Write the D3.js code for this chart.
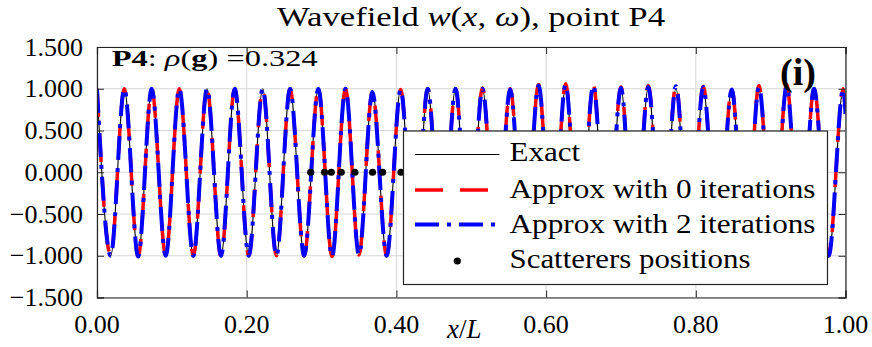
<!DOCTYPE html>
<html><head><meta charset="utf-8">
<script src="https://cdn.jsdelivr.net/npm/d3@7"></script>
<style>
body{margin:0;background:#fff}
svg{display:block}
text{font-family:"Liberation Serif","Times New Roman",serif;fill:#000}
</style>
</head><body>
<svg id="c" width="872" height="347"></svg>
<script>
// ---------- data ----------
const xTickValues = [0, 0.2, 0.4, 0.6, 0.8, 1.0];
const xTickLabels = ["0.00", "0.20", "0.40", "0.60", "0.80", "1.00"];
const yTickValues = [-1.5, -1, -0.5, 0, 0.5, 1, 1.5];
const yTickLabels = ["\u22121.500", "\u22121.000", "\u22120.500", "0.000", "0.500", "1.000", "1.500"];

// positions of the wave crests and troughs (x/L)
const peakX = [0.0000, 0.0365, 0.0731, 0.1100, 0.1470, 0.1840, 0.2214, 0.2580, 0.2957, 0.3320,
               0.3680, 0.4057, 0.4418, 0.4790, 0.5150, 0.5520, 0.5900, 0.6260, 0.6630, 0.7000,
               0.7365, 0.7735, 0.8100, 0.8480, 0.8844, 0.9214, 0.9580, 0.9970];
const troughX = [0.0183, 0.0550, 0.0918, 0.1287, 0.1657, 0.2027, 0.2397, 0.2768, 0.3140, 0.3500,
                 0.3870, 0.4240, 0.4605, 0.4970, 0.5335, 0.5710, 0.6080, 0.6445, 0.6815, 0.7180,
                 0.7550, 0.7918, 0.8290, 0.8662, 0.9030, 0.9397, 0.9775];
const endX = 1.0;

// exact solution
const exactPeak = [1.00, 1.00, 1.00, 1.00, 1.00, 1.00, 1.00, 1.00, 1.00, 1.00,
                   0.98, 1.00, 0.99, 1.00, 1.00, 1.01, 1.00, 1.02, 1.00, 1.00,
                   1.01, 1.00, 0.99, 1.00, 0.99, 1.01, 1.00, 1.00];
const exactTrough = [-1.00, -1.00, -1.00, -1.00, -1.00, -1.00, -1.00, -1.00, -1.00, -1.00,
                     -1.00, -1.00, -1.00, -1.00, -1.00, -1.00, -1.00, -1.00, -1.00, -1.00,
                     -1.00, -1.00, -1.00, -1.00, -1.00, -1.00, -1.00];
const exactEnd = 0.70;

// approximation with 0 iterations
const approx0Peak = [1.00, 1.00, 1.00, 1.00, 1.00, 1.00, 1.00, 1.00, 1.00, 1.00,
                     0.97, 0.99, 1.00, 1.00, 1.01, 1.00, 1.05, 1.06, 1.05, 1.02,
                     1.04, 1.05, 1.03, 1.00, 1.04, 1.05, 1.01, 1.00];
const approx0Trough = [-1.00, -1.01, -1.00, -1.00, -1.01, -1.00, -1.00, -1.00, -1.01, -0.99,
                       -1.00, -1.01, -1.00, -1.00, -1.01, -1.00, -1.00, -1.01, -1.00, -1.00,
                       -1.01, -1.00, -1.00, -1.00, -1.01, -1.00, -1.00];
const approx0End = 0.68;

// approximation with 2 iterations
const approx2Peak = [1.00, 1.00, 1.00, 1.00, 1.00, 1.00, 1.00, 1.00, 1.00, 1.00,
                     0.96, 0.99, 1.00, 1.00, 1.00, 0.99, 1.04, 1.05, 1.04, 1.01,
                     1.02, 1.03, 1.02, 0.99, 1.02, 1.03, 1.00, 1.00];
const approx2Trough = [-1.00, -1.01, -1.00, -1.00, -1.00, -1.00, -1.00, -1.00, -1.01, -0.99,
                       -1.00, -1.00, -1.00, -1.00, -1.00, -1.00, -1.00, -1.00, -1.00, -1.00,
                       -1.00, -1.00, -1.00, -1.00, -1.00, -1.00, -1.00];
const approx2End = 0.70;

// scatterers positions
const scattererX = [0.2855, 0.3040, 0.3130, 0.3263, 0.3446, 0.3681, 0.3815, 0.4061];
const scattererY = [0, 0, 0, 0, 0, 0, 0, 0];

const legendLabels = ["Exact", "Approx with 0 iterations", "Approx with 2 iterations", "Scatterers positions"];

// ---------- drawing ----------
const svg = d3.select("#c");
const M = {l: 97, r: 845.5, t: 47, b: 297.5};
const x = d3.scaleLinear().domain([0, 1]).range([M.l, M.r]);
const y = d3.scaleLinear().domain([-1.5, 1.5]).range([M.b, M.t]);
const axisColor = "#262626";

svg.append("rect").attr("width", 872).attr("height", 347).attr("fill", "#fff");

// clip
svg.append("clipPath").attr("id", "plotclip").append("rect")
  .attr("x", M.l).attr("y", M.t).attr("width", M.r - M.l).attr("height", M.b - M.t);

// grid
const grid = svg.append("g").attr("stroke", "#d6d6d6").attr("stroke-width", 1);
xTickValues.forEach(v => grid.append("line").attr("x1", x(v)).attr("x2", x(v)).attr("y1", M.t).attr("y2", M.b));
yTickValues.forEach(v => grid.append("line").attr("y1", y(v)).attr("y2", y(v)).attr("x1", M.l).attr("x2", M.r));

function build(pk, tr, endV) {
  const pts = [];
  peakX.forEach((px, i) => pts.push([px, pk[i]]));
  troughX.forEach((tx, i) => pts.push([tx, tr[i]]));
  pts.push([endX, endV]);
  pts.sort((a, b) => a[0] - b[0]);
  return pts;
}
const line = d3.line().x(d => x(d[0])).y(d => y(d[1])).curve(d3.curveMonotoneX);

const plot = svg.append("g").attr("clip-path", "url(#plotclip)");
const styles = [
  {data: build(exactPeak, exactTrough, exactEnd), color: "#000000", w: 1.1, dash: null},
  {data: build(approx0Peak, approx0Trough, approx0End), color: "#ff0000", w: 3.5, dash: "28,17"},
  {data: build(approx2Peak, approx2Trough, approx2End), color: "#0000ff", w: 4, dash: "24,8,4,8"}
];
styles.forEach(s => {
  plot.append("path").attr("d", line(s.data)).attr("fill", "none")
    .attr("stroke", s.color).attr("stroke-width", s.w)
    .attr("stroke-dasharray", s.dash).attr("stroke-linejoin", "round");
});
plot.selectAll("circle.sc").data(scattererX).enter().append("circle")
  .attr("cx", d => x(d)).attr("cy", (d, i) => y(scattererY[i])).attr("r", 3.6).attr("fill", "#000");

// axes (inward ticks on all four sides)
const tk = 7;
const gB = svg.append("g").attr("transform", `translate(0,${M.b})`)
  .call(d3.axisBottom(x).tickValues(xTickValues).tickSize(-tk).tickFormat(""));
const gT = svg.append("g").attr("transform", `translate(0,${M.t})`)
  .call(d3.axisTop(x).tickValues(xTickValues).tickSize(-tk).tickFormat(""));
const gL = svg.append("g").attr("transform", `translate(${M.l},0)`)
  .call(d3.axisLeft(y).tickValues(yTickValues).tickSize(-tk).tickFormat(""));
const gR = svg.append("g").attr("transform", `translate(${M.r},0)`)
  .call(d3.axisRight(y).tickValues(yTickValues).tickSize(-tk).tickFormat(""));
[gB, gT, gL, gR].forEach(g => {
  g.selectAll("path.domain").attr("stroke", axisColor).attr("stroke-width", 1.2);
  g.selectAll(".tick line").attr("stroke", axisColor).attr("stroke-width", 1);
});

// tick labels
svg.append("g").selectAll("text").data(xTickValues).enter().append("text")
  .attr("x", d => x(d)).attr("y", 332.5).attr("text-anchor", "middle")
  .attr("font-size", 26).text((d, i) => xTickLabels[i]);
svg.append("g").selectAll("text").data(yTickValues).enter().append("text")
  .attr("x", 83).attr("y", d => y(d) + 8.7).attr("text-anchor", "end")
  .attr("font-size", 26).text((d, i) => yTickLabels[i]);

// x label
const xl = svg.append("text").attr("x", 447).attr("y", 338).attr("font-size", 27);
xl.append("tspan").attr("font-style", "italic").text("x");
xl.append("tspan").text("/");
xl.append("tspan").attr("font-style", "italic").text("L");

// title
const tt = svg.append("text").attr("x", 277).attr("y", 26).attr("font-size", 27.5)
  .attr("textLength", 388).attr("lengthAdjust", "spacingAndGlyphs");
tt.append("tspan").text("Wavefield ");
tt.append("tspan").attr("font-style", "italic").text("w");
tt.append("tspan").text("(");
tt.append("tspan").attr("font-style", "italic").text("x");
tt.append("tspan").text(", ");
tt.append("tspan").attr("font-style", "italic").text("\u03c9");
tt.append("tspan").text("), point P4");

// annotation
const an = svg.append("text").attr("x", 111.7).attr("y", 66).attr("font-size", 24)
  .attr("textLength", 206).attr("lengthAdjust", "spacingAndGlyphs");
an.append("tspan").attr("font-weight", "bold").text("P4");
an.append("tspan").text(":  ");
an.append("tspan").attr("font-style", "italic").text("\u03c1");
an.append("tspan").text("(");
an.append("tspan").attr("font-weight", "bold").text("g");
an.append("tspan").text(") =0.324");

svg.append("text").attr("x", 798).attr("y", 85).attr("text-anchor", "middle")
  .attr("font-size", 38).attr("font-weight", "bold").text("(i)");

// legend
const lg = svg.append("g");
lg.append("rect").attr("x", 403.5).attr("y", 131).attr("width", 424).attr("height", 153.5)
  .attr("fill", "#fff").attr("stroke", axisColor).attr("stroke-width", 1.2);
const rowY = [154.5, 190, 224.5, 261];
const textY = [161, 197.5, 232.5, 268.3];
const textW = [70.7, 306, 306, 241];
[0, 1, 2].forEach(i => {
  lg.append("line").attr("x1", 415).attr("x2", 499.5).attr("y1", rowY[i]).attr("y2", rowY[i])
    .attr("stroke", styles[i].color).attr("stroke-width", styles[i].w)
    .attr("stroke-dasharray", styles[i].dash);
});
lg.append("circle").attr("cx", 457.3).attr("cy", rowY[3]).attr("r", 3.6).attr("fill", "#000");
legendLabels.forEach((t, i) => {
  lg.append("text").attr("x", 509.5).attr("y", textY[i]).attr("font-size", 27)
    .attr("textLength", textW[i]).attr("lengthAdjust", "spacingAndGlyphs").text(t);
});
</script>
</body></html>
